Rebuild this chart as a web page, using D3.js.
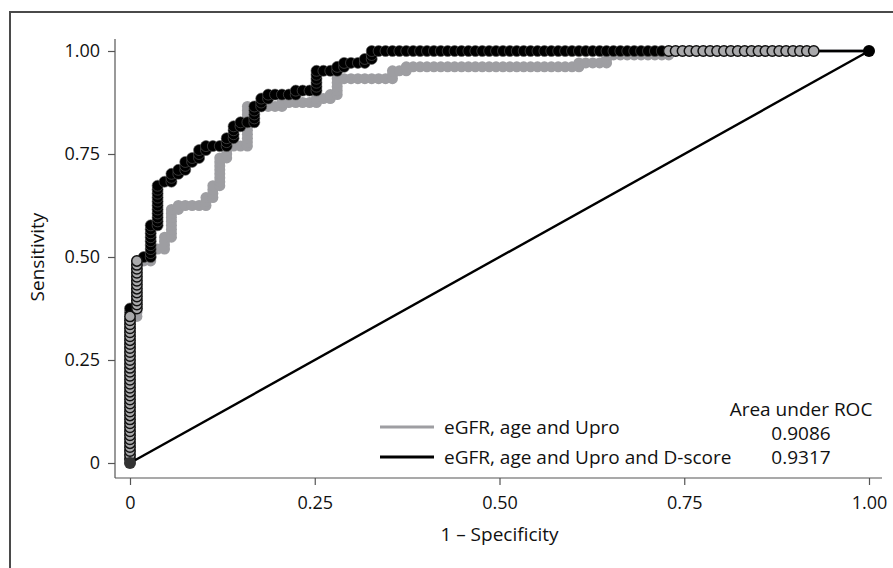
<!DOCTYPE html>
<html>
<head>
<meta charset="utf-8">
<script src="https://cdn.jsdelivr.net/npm/d3@7"></script>
<style>
  html, body { margin: 0; padding: 0; background: #fff; }
  svg { display: block; }
  text { font-family: "Open Sans", "Noto Sans", sans-serif; fill: #111; }
</style>
</head>
<body>
<svg id="chart" width="893" height="568"></svg>
<script>
// ---------------- DATA ----------------
const nNegatives = 107;   // number of 1-specificity steps
const nPositives = 104;   // number of sensitivity steps
const curveLabels = ["eGFR, age and Upro", "eGFR, age and Upro and D-score"];
const aucValues = ["0.9086", "0.9317"];
const aucTitle = "Area under ROC";
const xTickValues = [0, 0.25, 0.5, 0.75, 1];
const xTickLabels = ["0", "0.25", "0.50", "0.75", "1.00"];
const yTickValues = [0, 0.25, 0.5, 0.75, 1];
const yTickLabels = ["0", "0.25", "0.50", "0.75", "1.00"];
const xTitle = "1 \u2013 Specificity";
const yTitle = "Sensitivity";

// ROC steps: [false-positive steps, true-positive steps, repeat]
const stepsBase = [
  [0,1,37],[1,0,1],[0,1,14],[1,0,1],[1,0,1],[0,1,3],[1,0,2],[0,1,3],
  [1,0,1],[0,1,7],[1,0,1],[0,1,1],[1,0,3],[1,0,1],[0,1,2],[1,0,1],[0,1,1],
  [0,1,2],[1,0,1],[0,1,7],[1,0,1],[0,1,3],[1,0,2],[1,0,1],[0,1,10],[1,0,4],
  [1,0,1],[0,1,1],[1,0,4],[1,0,1],[0,1,1],[1,0,2],[0,1,1],[1,0,1],[0,1,4],
  [1,0,7],[1,0,1],[0,1,2],[1,0,2],[0,1,1],[1,0,25],[0,1,1],[1,0,3],[1,0,1],
  [0,1,2],[1,0,9],[0,1,1],[1,0,21],[8,0,1]
];
const stepsDscore = [
  [0,1,39],[1,0,1],[0,1,12],[1,1,1],[1,0,1],[0,1,8],[1,0,1],[0,1,10],[1,1,1],
  [1,0,1],[0,1,2],[1,0,1],[0,1,1],[1,0,1],[0,1,2],[1,0,1],[0,1,1],[1,0,1],
  [0,1,2],[1,0,1],[0,1,1],[1,0,2],[1,0,1],[0,1,2],[1,0,1],[0,1,3],[1,0,1],
  [0,1,1],[1,0,1],[1,0,1],[0,1,4],[1,0,1],[0,1,2],[1,0,1],[0,1,1],[1,0,3],
  [1,0,1],[0,1,1],[1,0,2],[1,0,1],[0,1,5],[1,0,2],[1,0,1],[0,1,1],[1,0,1],
  [0,1,1],[1,0,2],[1,0,1],[0,1,1],[1,0,1],[0,1,2],[1,0,64],[8,0,1]
];

// ---------------- BUILD ----------------
function walk(steps) {
  let fp = 0, tp = 0;
  const pts = [{fp, tp}];
  steps.forEach(([dx, dy, n]) => {
    for (let i = 0; i < n; i++) { fp += dx; tp += dy; pts.push({fp, tp}); }
  });
  return pts.map(p => ({fp: p.fp, tp: p.tp, key: p.fp + "," + p.tp,
    x: p.fp / nNegatives, y: p.tp / nPositives}));
}
const ptsBase = walk(stepsBase);
const ptsD = walk(stepsDscore);
const baseKeys = new Set(ptsBase.map(p => p.key));

// points lying on a common run of both curves (run of >= 4 coinciding points)
const common = ptsD.map(p => baseKeys.has(p.key));
const sharedKeys = new Set();
for (let i = 0; i < ptsD.length; ) {
  if (!common[i]) { i++; continue; }
  let j = i; while (j < ptsD.length && common[j]) j++;
  if (j - i >= 4) for (let k = i; k < j; k++) sharedKeys.add(ptsD[k].key);
  i = j;
}
const endKeys = new Set(["0,0", nNegatives + "," + nPositives]);

const svg = d3.select("#chart");
const x = d3.scaleLinear().domain([0, 1]).range([130, 869]);
const y = d3.scaleLinear().domain([0, 1]).range([463, 51]);

const GRAY = "#9e9ea2";
const R = 5.5;
const FS_TICK = 18;
const FS_TEXT = 19;

// outer frame
svg.append("rect").attr("x", 10).attr("y", 12).attr("width", 900).attr("height", 570)
  .attr("fill", "none").attr("stroke", "#4a4a4a").attr("stroke-width", 2);

// axes
const yAxis = d3.axisLeft(y).tickValues(yTickValues)
  .tickFormat((d, i) => yTickLabels[i]).tickSize(7).tickPadding(8);
const gy = svg.append("g").attr("transform", "translate(115,0)").call(yAxis);
gy.select(".domain").remove();
gy.append("line").attr("x1", 0).attr("x2", 0).attr("y1", 39).attr("y2", 478)
  .attr("stroke", "#555").attr("stroke-width", 1.2);

const xAxis = d3.axisBottom(x).tickValues(xTickValues)
  .tickFormat((d, i) => xTickLabels[i]).tickSize(7).tickPadding(11);
const gx = svg.append("g").attr("transform", "translate(0,478)").call(xAxis);
gx.select(".domain").remove();
gx.append("line").attr("x1", 115).attr("x2", 882).attr("y1", 0).attr("y2", 0)
  .attr("stroke", "#555").attr("stroke-width", 1.2);

[gx, gy].forEach(g => {
  g.selectAll(".tick line").attr("stroke", "#555").attr("stroke-width", 1.2);
  g.selectAll(".tick text").attr("font-size", FS_TICK).attr("fill", "#111")
    .attr("font-family", "'Open Sans', sans-serif");
});

svg.append("text").attr("x", (x(0) + x(1)) / 2).attr("y", 541)
  .attr("text-anchor", "middle").attr("font-size", FS_TEXT).text(xTitle);
svg.append("text").attr("transform", "translate(44,257) rotate(-90)")
  .attr("text-anchor", "middle").attr("font-size", FS_TEXT).text(yTitle);

// curves
const line = d3.line().x(d => x(d.x)).y(d => y(d.y));
const plot = svg.append("g");

plot.append("path").datum(ptsBase).attr("d", line)
  .attr("fill", "none").attr("stroke", GRAY).attr("stroke-width", 3);
plot.append("g").selectAll("circle")
  .data(ptsBase.filter(p => !sharedKeys.has(p.key) && !endKeys.has(p.key))).join("circle")
  .attr("cx", d => x(d.x)).attr("cy", d => y(d.y)).attr("r", R)
  .attr("fill", GRAY);

plot.append("path").datum(ptsD).attr("d", line)
  .attr("fill", "none").attr("stroke", "#000").attr("stroke-width", 2.5);
plot.append("g").selectAll("circle")
  .data(ptsD.filter(p => !sharedKeys.has(p.key) && !endKeys.has(p.key))).join("circle")
  .attr("cx", d => x(d.x)).attr("cy", d => y(d.y)).attr("r", R)
  .attr("fill", "#000").attr("stroke", "#5a5a5a").attr("stroke-width", 0.6);

// points where both curves coincide
plot.append("g").selectAll("circle")
  .data(ptsD.filter(p => sharedKeys.has(p.key) && !endKeys.has(p.key))).join("circle")
  .attr("cx", d => x(d.x)).attr("cy", d => y(d.y)).attr("r", R - 0.3)
  .attr("fill", "#a9a9ab").attr("stroke", "#111").attr("stroke-width", 1.5);

// reference line
svg.append("line").attr("x1", x(0)).attr("y1", y(0)).attr("x2", x(1)).attr("y2", y(1))
  .attr("stroke", "#000").attr("stroke-width", 2.4);
svg.append("circle").attr("cx", x(0)).attr("cy", y(0)).attr("r", R + 0.5).attr("fill", "#333");
svg.append("circle").attr("cx", x(1)).attr("cy", y(1)).attr("r", R + 0.5).attr("fill", "#000");

// legend
const legend = svg.append("g");
const legRows = [{c: GRAY, y: 427}, {c: "#000", y: 457}];
legRows.forEach((r, i) => {
  legend.append("line").attr("x1", 380).attr("x2", 434).attr("y1", r.y).attr("y2", r.y)
    .attr("stroke", r.c).attr("stroke-width", 3);
  legend.append("text").attr("x", 444).attr("y", r.y).attr("dy", "0.35em")
    .attr("font-size", FS_TEXT).text(curveLabels[i]);
  legend.append("text").attr("x", 801).attr("y", r.y + (i === 0 ? 6 : 0)).attr("dy", "0.35em")
    .attr("text-anchor", "middle").attr("font-size", FS_TEXT).text(aucValues[i]);
});
legend.append("text").attr("x", 801).attr("y", 409).attr("dy", "0.35em")
  .attr("text-anchor", "middle").attr("font-size", FS_TEXT).text(aucTitle);
</script>
</body>
</html>
